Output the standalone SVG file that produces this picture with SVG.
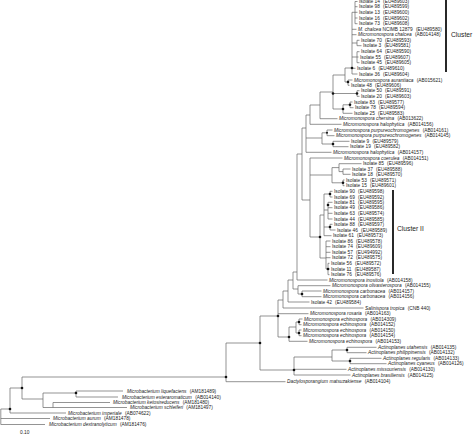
<svg xmlns="http://www.w3.org/2000/svg" width="474" height="438" viewBox="0 0 474 438">
<style>
.t{font-family:"Liberation Sans",Arial,sans-serif;font-size:4.8px;fill:#222}
.i{font-style:italic}
.c{font-family:"Liberation Sans",Arial,sans-serif;font-size:6.7px;fill:#222}
.br{fill:none;stroke:#666;stroke-width:0.7}
.bar{stroke:#111;stroke-width:1.8}
.d{fill:#111}
</style>
<rect width="474" height="438" fill="#fff"/>
<g id="connectors">
<path class="br" d="M355 1.5V23.7M355 1.5H357.5M355 6.7H357.5M355 12.3H357.5M355 18H357.5M355 23.7H357.5
M352 12.3V74M352 12.3H355M352 29.3H356.5M352 34.7H356.5M352 43H357M352 57H357M352 68.3H355.5M352 74H357.5
M357 40.3V45.7M357 40.3H359.5M357 45.7H361.5
M357 51.7V62.7M357 51.7H359.5M357 57H358.5M357 62.7H359.5
M348 80V85.3M348 80H352.5M348 85.3H349.5
M345 68V82M345 68H352M345 82H348
M357 90.7V96.3M357 90.7H359.5M357 96.3H359.5
M350 102V107.7M350 102H352.5M350 107.7H353.5
M343 104.8V113.3M343 104.8H350M343 113.3H352.5
M333 75V109M333 75H345M333 93.5H357M333 109H343
M320 92V118.7M320 92H333M320 118.7H337.5
M310 105V124.3M310 105H320M310 124.3H341.5
M327 130V135.7M327 130H332.5M327 135.7H334.5
M333 141.3V146.7M333 141.3H349.5M333 146.7H348.5
M322 132.8V144M322 132.8H327M322 144H333
M306 115V152.3M306 115H310M306 138H322M306 152.3H331.5
M343 169V174.3M343 169H350.5M343 174.3H350.5
M339 163.7V171.6M339 163.7H361.5M339 171.6H343
M343 180V185.7M343 180H344.5M343 185.7H344.5
M332 167.6V182.8M332 167.6H339M332 182.8H343
M330 191.3V197M330 191.3H332.5M330 197H332.5
M328 202.3V219M328 202.3H332.5M328 207.7H332.5M328 213.3H332.5M328 219H332.5
M330 224.3V230M330 224.3H332.5M330 230H335.5
M324 194V235.7M324 194H330M324 210H328M324 227H330M324 235.7H331.5
M326 241V269M326 241H330.5M326 246.7H330.5M326 252.3H330.5M326 257.7H330.5M326 269H328
M328 263.3V274.7M328 263.3H329.5M328 269H329.5M328 274.7H329.5
M320 215V258M320 215H324M320 258H326
M310 158V237M310 158H342.5M310 175H332M310 237H320
M302 128V200M302 128H306M302 200H310
M297 154V280M297 154H302M297 280H327.5
M293 272V289M293 272H297M293 289H298
M298 285.7V294M298 285.7H330.5M298 294H302
M302 291V296.7M302 291H321.5M302 296.7H321.5
M288 280V302M288 280H293M288 302H309.5
M283 291V308M283 291H288M283 308H363.5
M278 300V337M278 300H283M278 313.7H308.5M278 337H289
M289 327V341.3M289 327H296M289 341.3H307.5
M296 322V333M296 322H299M296 333H299
M299 319V324.7M299 319H302.5M299 324.7H301.5
M299 330V335.7M299 330H301.5M299 335.7H301.5
M260 316V370M260 316H278M260 370H294
M294 357V375M294 357H332M294 369.3H346.5M294 375H350.5
M332 350V361M332 350H347M332 361H350
M347 347.3V352.7M347 347.3H376.5M347 352.7H366.5
M350 358.3V363.7M350 358.3H381.5M350 363.7H386.5
M226 343V381.7M226 343H260M226 381.7H285.5
M22 377V399M22 377H226M22 399H43
M43 393V407.5M43 393H76M43 407.5H53
M76 391V397M76 391H123M76 397H118
M53 402.5V407.5M53 402.5H110M53 407.5H127
M10 388V413M10 388H22M10 413H66
M0.8 409V424.5M0.8 409H10M0.8 418.5H50M0.8 424.5H45"/>
</g>
<g id="nodes">
<circle class="d" cx="352" cy="68" r="1.3"/><circle class="d" cx="348" cy="82" r="1.3"/>
<circle class="d" cx="357" cy="93.5" r="1.3"/><circle class="d" cx="350" cy="104.8" r="1.3"/>
<circle class="d" cx="343" cy="109" r="1.3"/><circle class="d" cx="333" cy="93.5" r="1.3"/>
<circle class="d" cx="327" cy="132.8" r="1"/><circle class="d" cx="333" cy="144" r="1.3"/>
<circle class="d" cx="343" cy="182.8" r="1.3"/><circle class="d" cx="330" cy="194" r="1.3"/>
<circle class="d" cx="328" cy="205" r="1.3"/><circle class="d" cx="330" cy="227" r="1.3"/>
<circle class="d" cx="328" cy="269" r="1.3"/><circle class="d" cx="320" cy="237" r="1.3"/>
<circle class="d" cx="302" cy="294" r="1.3"/><circle class="d" cx="278" cy="316" r="1.3"/>
<circle class="d" cx="289" cy="337" r="1.3"/><circle class="d" cx="299" cy="322" r="1.3"/>
<circle class="d" cx="299" cy="333" r="1.3"/><circle class="d" cx="260" cy="343" r="1.3"/>
<circle class="d" cx="294" cy="370" r="1.3"/><circle class="d" cx="347" cy="350" r="1.3"/>
<circle class="d" cx="350" cy="361" r="1.3"/><circle class="d" cx="226" cy="377" r="1.3"/>
<circle class="d" cx="22" cy="388" r="1.3"/><circle class="d" cx="76" cy="393" r="1.3"/>
<circle class="d" cx="10" cy="409" r="1.3"/>
</g>
<g id="leaf-i14"><text class="t" x="359" y="3.2">Isolate 14<tspan dx="3.3">(EU489603)</tspan></text></g>
<g id="leaf-i98"><text class="t" x="359" y="8.4">Isolate 98<tspan dx="3.3">(EU489599)</tspan></text></g>
<g id="leaf-i13"><text class="t" x="359" y="14">Isolate 13<tspan dx="3.3">(EU489600)</tspan></text></g>
<g id="leaf-i16"><text class="t" x="359" y="19.7">Isolate 16<tspan dx="3.3">(EU489602)</tspan></text></g>
<g id="leaf-i73"><text class="t" x="359" y="25.4">Isolate 73<tspan dx="3.3">(EU489608)</tspan></text></g>
<g id="leaf-ncimb"><text class="t" x="358" y="31"><tspan class="i">M. chalcea</tspan> NCIMB 12879<tspan dx="3.3">(EU489580)</tspan></text></g>
<g id="leaf-chalcea"><text class="t" x="358" y="36.4"><tspan class="i">Micromonospora chalcea</tspan><tspan dx="3.3">(AB014148)</tspan></text></g>
<g id="leaf-i70"><text class="t" x="361" y="42">Isolate 70<tspan dx="3.3">(EU489593)</tspan></text></g>
<g id="leaf-i3"><text class="t" x="363" y="47.4">Isolate 3<tspan dx="3.3">(EU489581)</tspan></text></g>
<g id="leaf-i64"><text class="t" x="361" y="53.4">Isolate 64<tspan dx="3.3">(EU489590)</tspan></text></g>
<g id="leaf-i55"><text class="t" x="360" y="58.7">Isolate 55<tspan dx="3.3">(EU489607)</tspan></text></g>
<g id="leaf-i45"><text class="t" x="361" y="64.4">Isolate 45<tspan dx="3.3">(EU489605)</tspan></text></g>
<g id="leaf-i6"><text class="t" x="357" y="70">Isolate 6<tspan dx="3.3">(EU489610)</tspan></text></g>
<g id="leaf-i36"><text class="t" x="359" y="75.7">Isolate 36<tspan dx="3.3">(EU489604)</tspan></text></g>
<g id="leaf-aur"><text class="t" x="354" y="81.7"><tspan class="i">Micromonospora aurantiaca</tspan><tspan dx="3.3">(AB015621)</tspan></text></g>
<g id="leaf-i48"><text class="t" x="351" y="87">Isolate 48<tspan dx="3.3">(EU489606)</tspan></text></g>
<g id="leaf-i50"><text class="t" x="361" y="92.4">Isolate 50<tspan dx="3.3">(EU489591)</tspan></text></g>
<g id="leaf-i20"><text class="t" x="361" y="98">Isolate 20<tspan dx="3.3">(EU489603)</tspan></text></g>
<g id="leaf-i83"><text class="t" x="354" y="103.7">Isolate 83<tspan dx="3.3">(EU489577)</tspan></text></g>
<g id="leaf-i78"><text class="t" x="355" y="109.4">Isolate 78<tspan dx="3.3">(EU489594)</tspan></text></g>
<g id="leaf-i25"><text class="t" x="354" y="115">Isolate 25<tspan dx="3.3">(EU489583)</tspan></text></g>
<g id="leaf-chersina"><text class="t" x="339" y="120.4"><tspan class="i">Micromonospora chersina</tspan><tspan dx="3.3">(AB013622)</tspan></text></g>
<g id="leaf-halo156"><text class="t" x="343" y="126"><tspan class="i">Micromonospora halophytica</tspan><tspan dx="3.3">(AB014156)</tspan></text></g>
<g id="leaf-purp161"><text class="t" x="334" y="131.7"><tspan class="i">Micromonospora purpureochromogenes</tspan><tspan dx="3.3">(AB014161)</tspan></text></g>
<g id="leaf-purp145"><text class="t" x="336" y="137.4"><tspan class="i">Micromonospora purpureochromogenes</tspan><tspan dx="3.3">(AB014145)</tspan></text></g>
<g id="leaf-i9"><text class="t" x="351" y="143">Isolate 9<tspan dx="3.3">(EU489579)</tspan></text></g>
<g id="leaf-i19"><text class="t" x="350" y="148.4">Isolate 19<tspan dx="3.3">(EU489582)</tspan></text></g>
<g id="leaf-halo157"><text class="t" x="333" y="154"><tspan class="i">Micromonospora halophytica</tspan><tspan dx="3.3">(AB014157)</tspan></text></g>
<g id="leaf-coerulea"><text class="t" x="344" y="159.7"><tspan class="i">Micromonospora coerulea</tspan><tspan dx="3.3">(AB014151)</tspan></text></g>
<g id="leaf-i85"><text class="t" x="363" y="165.4">Isolate 85<tspan dx="3.3">(EU489596)</tspan></text></g>
<g id="leaf-i37"><text class="t" x="352" y="170.7">Isolate 37<tspan dx="3.3">(EU489588)</tspan></text></g>
<g id="leaf-i18"><text class="t" x="352" y="176">Isolate 18<tspan dx="3.3">(EU489570)</tspan></text></g>
<g id="leaf-i53"><text class="t" x="346" y="181.7">Isolate 53<tspan dx="3.3">(EU489571)</tspan></text></g>
<g id="leaf-i15"><text class="t" x="346" y="187.4">Isolate 15<tspan dx="3.3">(EU489601)</tspan></text></g>
<g id="leaf-i90"><text class="t" x="334" y="193">Isolate 90<tspan dx="3.3">(EU489598)</tspan></text></g>
<g id="leaf-i69"><text class="t" x="334" y="198.7">Isolate 69<tspan dx="3.3">(EU489592)</tspan></text></g>
<g id="leaf-i81"><text class="t" x="334" y="204">Isolate 81<tspan dx="3.3">(EU489595)</tspan></text></g>
<g id="leaf-i49"><text class="t" x="334" y="209.4">Isolate 49<tspan dx="3.3">(EU489586)</tspan></text></g>
<g id="leaf-i63"><text class="t" x="334" y="215">Isolate 63<tspan dx="3.3">(EU489574)</tspan></text></g>
<g id="leaf-i44"><text class="t" x="334" y="220.7">Isolate 44<tspan dx="3.3">(EU489585)</tspan></text></g>
<g id="leaf-i88"><text class="t" x="334" y="226">Isolate 88<tspan dx="3.3">(EU489597)</tspan></text></g>
<g id="leaf-i46"><text class="t" x="337" y="231.7">Isolate 46<tspan dx="3.3">(EU489589)</tspan></text></g>
<g id="leaf-i61"><text class="t" x="333" y="237.4">Isolate 61<tspan dx="3.3">(EU489573)</tspan></text></g>
<g id="leaf-i86"><text class="t" x="332" y="242.7">Isolate 86<tspan dx="3.3">(EU489578)</tspan></text></g>
<g id="leaf-i74"><text class="t" x="332" y="248.4">Isolate 74<tspan dx="3.3">(EU489609)</tspan></text></g>
<g id="leaf-i57"><text class="t" x="332" y="254">Isolate 57<tspan dx="3.3">(EU494992)</tspan></text></g>
<g id="leaf-i72"><text class="t" x="332" y="259.4">Isolate 72<tspan dx="3.3">(EU489575)</tspan></text></g>
<g id="leaf-i56"><text class="t" x="331" y="265">Isolate 56<tspan dx="3.3">(EU489572)</tspan></text></g>
<g id="leaf-i11"><text class="t" x="331" y="270.7">Isolate 11<tspan dx="3.3">(EU489587)</tspan></text></g>
<g id="leaf-i76"><text class="t" x="331" y="276.4">Isolate 76<tspan dx="3.3">(EU489576)</tspan></text></g>
<g id="leaf-inositola"><text class="t" x="329" y="281.7"><tspan class="i">Micromonospora inositola</tspan><tspan dx="3.3">(AB014158)</tspan></text></g>
<g id="leaf-olivaster"><text class="t" x="332" y="287.4"><tspan class="i">Micromonospora olivasterospora</tspan><tspan dx="3.3">(AB014155)</tspan></text></g>
<g id="leaf-carb157"><text class="t" x="323" y="292.7"><tspan class="i">Micromonospora carbonacea</tspan><tspan dx="3.3">(AB014157)</tspan></text></g>
<g id="leaf-carb156"><text class="t" x="323" y="298.4"><tspan class="i">Micromonospora carbonacea</tspan><tspan dx="3.3">(AB014156)</tspan></text></g>
<g id="leaf-i42"><text class="t" x="311" y="303.7">Isolate 42<tspan dx="3.3">(EU489584)</tspan></text></g>
<g id="leaf-salinispora"><text class="t" x="365" y="309.7"><tspan class="i">Salinispora tropica</tspan><tspan dx="3.3">(CNB 440)</tspan></text></g>
<g id="leaf-rosaria"><text class="t" x="310" y="315.4"><tspan class="i">Micromonospora rosaria</tspan><tspan dx="3.3">(AB014163)</tspan></text></g>
<g id="leaf-ech309"><text class="t" x="304" y="320.7"><tspan class="i">Micromonospora echinospora</tspan><tspan dx="3.3">(AB014309)</tspan></text></g>
<g id="leaf-ech152"><text class="t" x="303" y="326.4"><tspan class="i">Micromonospora echinospora</tspan><tspan dx="3.3">(AB014152)</tspan></text></g>
<g id="leaf-ech150"><text class="t" x="303" y="331.7"><tspan class="i">Micromonospora echinospora</tspan><tspan dx="3.3">(AB014150)</tspan></text></g>
<g id="leaf-ech154"><text class="t" x="303" y="337.4"><tspan class="i">Micromonospora echinospora</tspan><tspan dx="3.3">(AB014154)</tspan></text></g>
<g id="leaf-ech153"><text class="t" x="309" y="343"><tspan class="i">Micromonospora echinospora</tspan><tspan dx="3.3">(AB014153)</tspan></text></g>
<g id="leaf-utahensis"><text class="t" x="378" y="349"><tspan class="i">Actinoplanes utahensis</tspan><tspan dx="3.3">(AB014135)</tspan></text></g>
<g id="leaf-philipp"><text class="t" x="368" y="354.4"><tspan class="i">Actinoplanes philippinensis</tspan><tspan dx="3.3">(AB014132)</tspan></text></g>
<g id="leaf-regularis"><text class="t" x="383" y="360"><tspan class="i">Actinoplanes regularis</tspan><tspan dx="3.3">(AB014133)</tspan></text></g>
<g id="leaf-cyaneus"><text class="t" x="388" y="365.4"><tspan class="i">Actinoplanes cyaneus</tspan><tspan dx="3.3">(AB014126)</tspan></text></g>
<g id="leaf-missouri"><text class="t" x="348" y="371"><tspan class="i">Actinoplanes missouriensis</tspan><tspan dx="3.3">(AB014130)</tspan></text></g>
<g id="leaf-brasil"><text class="t" x="352" y="376.7"><tspan class="i">Actinoplanes brasiliensis</tspan><tspan dx="3.3">(AB014125)</tspan></text></g>
<g id="leaf-dactylo"><text class="t" x="287" y="383.4"><tspan class="i">Dactylosporangium matsuzakiense</tspan><tspan dx="3.3">(AB014104)</tspan></text></g>
<g id="leaf-liquef"><text class="t" x="127" y="392.7"><tspan class="i">Microbacterium liquefaciens</tspan><tspan dx="3.3">(AM181489)</tspan></text></g>
<g id="leaf-ester"><text class="t" x="122" y="398.7"><tspan class="i">Microbacterium esteraromaticum</tspan><tspan dx="3.3">(AB014140)</tspan></text></g>
<g id="leaf-keto"><text class="t" x="113" y="404.2"><tspan class="i">Microbacterium ketosireducens</tspan><tspan dx="3.3">(AM181480)</tspan></text></g>
<g id="leaf-schleif"><text class="t" x="130" y="409.2"><tspan class="i">Microbacterium schleiferi</tspan><tspan dx="3.3">(AM181497)</tspan></text></g>
<g id="leaf-imperiale"><text class="t" x="68" y="414.7"><tspan class="i">Microbacterium imperiale</tspan><tspan dx="3.3">(AB074622)</tspan></text></g>
<g id="leaf-aurum"><text class="t" x="53" y="420.2"><tspan class="i">Microbacterium aurum</tspan><tspan dx="3.3">(AM181478)</tspan></text></g>
<g id="leaf-dextr"><text class="t" x="49" y="426.2"><tspan class="i">Microbacterium dextranolyticum</tspan><tspan dx="3.3">(AM181476)</tspan></text></g>
<g id="scale"><text class="t" x="20" y="433.7">0.10</text></g>
<g id="cluster-1"><line class="bar" x1="446" y1="0" x2="446" y2="72"/><text class="c" x="451" y="37.4">Cluster</text></g>
<g id="cluster-2"><line class="bar" x1="393" y1="190" x2="393" y2="274"/><text class="c" x="397" y="231.4">Cluster II</text></g>
</svg>
